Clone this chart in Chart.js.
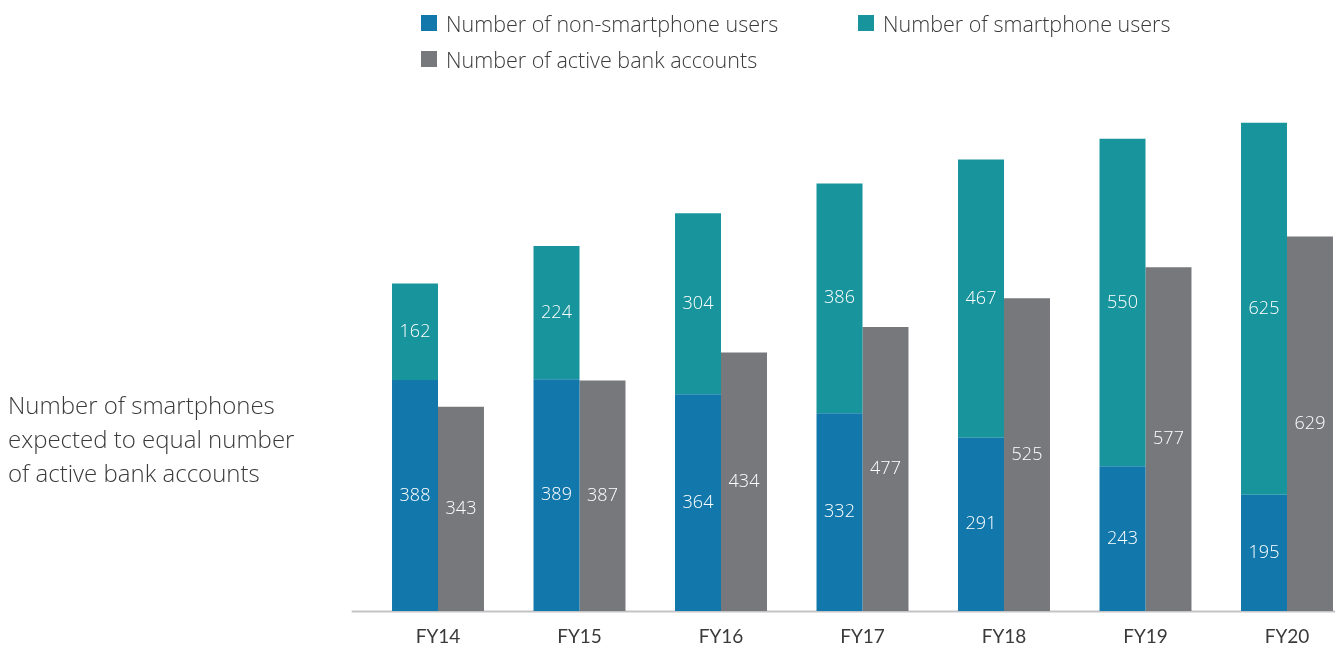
<!DOCTYPE html>
<html>
<head>
<meta charset="utf-8">
<script src="https://cdn.jsdelivr.net/npm/chart.js@4/dist/chart.umd.min.js"></script>
<style>
  html, body { margin: 0; padding: 0; background: #fff; overflow: hidden; }
  #wrap { position: relative; width: 1341px; height: 656px; }
  #chart { position: absolute; left: 0; top: 0; }
  .legend { position: absolute; font-family: "Open Sans", Lato, sans-serif; font-size: 21.5px; color: #3a3a3a; font-weight: 300; }
  .legend .item { position: absolute; white-space: nowrap; display: flex; align-items: center; height: 24px; }
  .legend .sw { display: inline-block; width: 16px; height: 16px; margin-right: 9px; }
  #side { position: absolute; left: 8px; top: 388px; font-family: "Open Sans", Lato, sans-serif; font-weight: 300; font-size: 24px; line-height: 34px; color: #3a3a3a; }
</style>
</head>
<body>
<div id="wrap">
  <canvas id="chart" width="1341" height="656"></canvas>
  <div class="legend" id="legend"></div>
  <div id="side">Number of smartphones<br>expected to equal number<br>of active bank accounts</div>
</div>
<script>
// Fiscal years on the horizontal axis
const categories = ['FY14', 'FY15', 'FY16', 'FY17', 'FY18', 'FY19', 'FY20'];

// Users split into non-smartphone and smartphone (stacked), plus active bank accounts
const nonSmartphoneUsers = [388, 389, 364, 332, 291, 243, 195];
const smartphoneUsers    = [162, 224, 304, 386, 467, 550, 625];
const activeBankAccounts = [343, 387, 434, 477, 525, 577, 629];

const seriesNames = [
  'Number of non-smartphone users',
  'Number of smartphone users',
  'Number of active bank accounts'
];
const seriesColors = ['#1278ac', '#17949c', '#77787b'];

// Legend laid out in two rows, as HTML text
const legendSpots = [
  { left: 421, top: 11 },
  { left: 858, top: 11 },
  { left: 421, top: 47 }
];
const legendEl = document.getElementById('legend');
seriesNames.forEach((name, i) => {
  const item = document.createElement('div');
  item.className = 'item';
  item.style.left = legendSpots[i].left + 'px';
  item.style.top = legendSpots[i].top + 'px';
  const sw = document.createElement('span');
  sw.className = 'sw';
  sw.style.background = seriesColors[i];
  item.appendChild(sw);
  item.appendChild(document.createTextNode(name));
  legendEl.appendChild(item);
});

// Value labels written in white at the middle of each bar segment
const valueLabels = {
  id: 'valueLabels',
  afterDatasetsDraw(chart) {
    const ctx = chart.ctx;
    ctx.save();
    ctx.font = '300 18px "Open Sans", Lato, sans-serif';
    ctx.fillStyle = '#ffffff';
    ctx.textAlign = 'center';
    ctx.textBaseline = 'middle';
    chart.data.datasets.forEach((ds, di) => {
      const meta = chart.getDatasetMeta(di);
      meta.data.forEach((bar, i) => {
        const p = bar.getProps(['x', 'y', 'base'], true);
        ctx.fillText(String(ds.data[i]), p.x, (p.y + p.base) / 2);
      });
    });
    ctx.restore();
  }
};

// Baseline rule under the bars
const baseRule = {
  id: 'baseRule',
  beforeDatasetsDraw(chart) {
    const x = chart.scales.x, y = chart.scales.y;
    const step = x.getPixelForValue(1) - x.getPixelForValue(0);
    const y0 = Math.round(y.getPixelForValue(0)) + 0.5;
    const ctx = chart.ctx;
    ctx.save();
    ctx.strokeStyle = '#c4c4c6';
    ctx.lineWidth = 2;
    ctx.beginPath();
    ctx.moveTo(x.getPixelForValue(0) - step * 0.61, y0);
    ctx.lineTo(x.getPixelForValue(categories.length - 1) + step * 0.34, y0);
    ctx.stroke();
    ctx.restore();
  }
};

new Chart(document.getElementById('chart'), {
  type: 'bar',
  data: {
    labels: categories,
    datasets: [
      { label: seriesNames[0], data: nonSmartphoneUsers, backgroundColor: seriesColors[0], stack: 'users', clip: false },
      { label: seriesNames[1], data: smartphoneUsers, backgroundColor: seriesColors[1], stack: 'users', clip: false },
      { label: seriesNames[2], data: activeBankAccounts, backgroundColor: seriesColors[2], stack: 'accounts', clip: false }
    ]
  },
  options: {
    responsive: false,
    animation: false,
    events: [],
    layout: { padding: { left: 438, right: 54, top: 75, bottom: 0 } },
    datasets: { bar: { categoryPercentage: 0.65, barPercentage: 1.0, borderWidth: 0 } },
    plugins: {
      legend: { display: false },
      tooltip: { enabled: false }
    },
    scales: {
      x: {
        stacked: true,
        offset: false,
        grid: { display: false },
        border: { display: false },
        afterFit(scale) { scale.height = 45; },
        ticks: {
          color: '#3a3a3a',
          padding: 6,
          maxRotation: 0,
          font: { family: 'Lato, "Open Sans", sans-serif', size: 19, weight: '400' }
        }
      },
      y: {
        stacked: true,
        display: false,
        min: 0,
        max: 900
      }
    }
  },
  plugins: [baseRule, valueLabels]
});
</script>
</body>
</html>
